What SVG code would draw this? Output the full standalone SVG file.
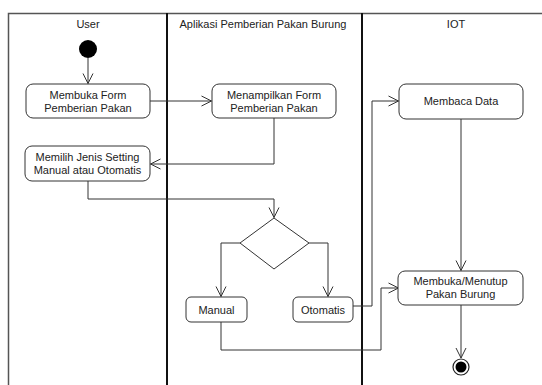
<svg xmlns="http://www.w3.org/2000/svg" width="542" height="385" viewBox="0 0 542 385">
<style>
.lane{stroke:#222;fill:none}
.box{fill:#fff;stroke:#333;stroke-width:1}
.t{font-family:"Liberation Sans",Arial,sans-serif;font-size:11px;fill:#222;text-anchor:middle}
.c{fill:none;stroke:#333;stroke-width:1;marker-end:url(#a)}
</style>
<defs>
<marker id="a" markerWidth="12" markerHeight="12" refX="11" refY="6" orient="auto" markerUnits="userSpaceOnUse">
<path d="M1,1 L11,6 L1,11" fill="none" stroke="#333" stroke-width="1"/>
</marker>
</defs>
<rect width="542" height="385" fill="#fff"/>
<g id="lanes">
<path d="M8.5,385 V13.5 H542" stroke="#555" stroke-width="1.5" fill="none"/>
<line x1="167" y1="13" x2="167" y2="385" stroke="#111" stroke-width="2"/>
<line x1="362" y1="13" x2="362" y2="385" stroke="#111" stroke-width="2"/>
<text class="t" x="88" y="28">User</text>
<text class="t" x="263" y="28">Aplikasi Pemberian Pakan Burung</text>
<text class="t" x="456" y="28">IOT</text>
</g>
<g id="connectors">
<path class="c" d="M88,58 V83.5"/>
<path class="c" d="M150,101 H211.5"/>
<path class="c" d="M274,118 V164 H150.5"/>
<path class="c" d="M88,181 V199 H274 V217.5"/>
<path class="c" d="M240,243 H221 V296.5"/>
<path class="c" d="M309,243 H328 V296.5"/>
<path class="c" d="M353,306 H372 V101 H398.5"/>
<path class="c" d="M221,322 V350 H381 V288 H398.5"/>
<path class="c" d="M461,119 V270.5"/>
<path class="c" d="M461,305 V358"/>
</g>
<g id="start"><circle cx="88" cy="49" r="9" fill="#000"/></g>
<g id="n1">
<rect class="box" x="26" y="84" width="124" height="34" rx="7"/>
<text class="t" x="88" y="99">Membuka Form</text>
<text class="t" x="88" y="112">Pemberian Pakan</text>
</g>
<g id="n2">
<rect class="box" x="212" y="84" width="124" height="34" rx="7"/>
<text class="t" x="274" y="99">Menampilkan Form</text>
<text class="t" x="274" y="112">Pemberian Pakan</text>
</g>
<g id="n3">
<rect class="box" x="25" y="146" width="125" height="35" rx="7"/>
<text class="t" x="87.5" y="161">Memilih Jenis Setting</text>
<text class="t" x="87.5" y="174">Manual atau Otomatis</text>
</g>
<g id="decision">
<path d="M274,218 L309,243 L274,269 L240,243 Z" fill="#fff" stroke="#333"/>
</g>
<g id="manual">
<rect class="box" x="186" y="297" width="61" height="25" rx="5"/>
<text class="t" x="216.5" y="313.5">Manual</text>
</g>
<g id="otomatis">
<rect class="box" x="293" y="297" width="60" height="25" rx="5"/>
<text class="t" x="323" y="313.5">Otomatis</text>
</g>
<g id="membaca">
<rect class="box" x="399" y="84" width="124" height="35" rx="7"/>
<text class="t" x="461" y="105">Membaca Data</text>
</g>
<g id="membuka">
<rect class="box" x="398" y="271" width="125" height="34" rx="7"/>
<text class="t" x="460.5" y="285">Membuka/Menutup</text>
<text class="t" x="460.5" y="298">Pakan Burung</text>
</g>
<g id="end">
<circle cx="461" cy="367" r="8" fill="#fff" stroke="#222" stroke-width="1.2"/>
<circle cx="461" cy="367" r="5.5" fill="#000"/>
</g>
</svg>
